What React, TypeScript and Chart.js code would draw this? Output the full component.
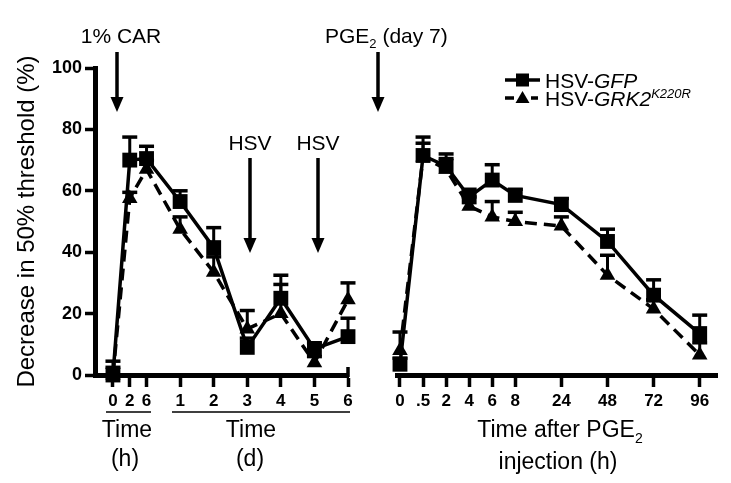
import React, { useEffect, useRef } from 'react';
import { Chart, registerables } from 'chart.js';

Chart.register(...registerables);

// ---------- data ----------
const leftTickLabels = ['0', '2', '6', '1', '2', '3', '4', '5', '6'];
const leftPositions = [0, 1, 2, 4, 6, 8, 10, 12, 14];
const gfpLeft = [0, 70, 70.5, 56.5, 41.5, 9, 25, 8.5, 12.5];
const gfpLeftErr = [4.5, 7.5, 4, 3.5, 6.5, 3, 7.5, 2, 6];
const grkLeft = [0, 57.5, 67, 47.5, 33.5, 15, 20, 4, 24.5];
const grkLeftErr = [2.5, 2, 3, 4, 5, 6, 9.5, 2, 5.5];

const rightTickLabels = ['0', '.5', '2', '4', '6', '8', '24', '48', '72', '96'];
const rightPositions = [0, 1, 2, 3, 4, 5, 7, 9, 11, 13];
const gfpRight = [3.5, 71.5, 68, 58, 63.5, 58.5, 55.5, 43.5, 26, 13.5];
const gfpRightErr = [2, 6, 4, 2.5, 5, 2, 2, 4, 5, 6];
const grkRight = [8, 71, 67, 55, 51.5, 50, 48.5, 32.5, 21.5, 6.5];
const grkRightErr = [6, 4.5, 3.5, 3, 5, 3, 3, 6.5, 3, 4];

const FONT = "'Liberation Sans', Arial, Helvetica, sans-serif";

type Part = { t: string; sub?: boolean; sup?: boolean; italic?: boolean };

function drawRich(ctx: CanvasRenderingContext2D, parts: Part[], x: number, y: number, size: number, align: 'left' | 'center') {
  const fontFor = (p: Part) =>
    `${p.italic ? 'italic ' : ''}${p.sub || p.sup ? Math.round(size * 0.62) : size}px ${FONT}`;
  let total = 0;
  const widths = parts.map((p) => {
    ctx.font = fontFor(p);
    const w = ctx.measureText(p.t).width;
    total += w;
    return w;
  });
  let cx = align === 'center' ? x - total / 2 : x;
  ctx.save();
  ctx.fillStyle = '#000';
  ctx.textAlign = 'left';
  ctx.textBaseline = 'alphabetic';
  parts.forEach((p, i) => {
    ctx.font = fontFor(p);
    const dy = p.sub ? size * 0.25 : p.sup ? -size * 0.38 : 0;
    ctx.fillText(p.t, cx, y + dy);
    cx += widths[i];
  });
  ctx.restore();
}

function drawArrow(ctx: CanvasRenderingContext2D, x: number, y1: number, y2: number) {
  ctx.save();
  ctx.strokeStyle = '#000';
  ctx.fillStyle = '#000';
  ctx.lineWidth = 3.5;
  ctx.beginPath();
  ctx.moveTo(x, y1);
  ctx.lineTo(x, y2 - 12);
  ctx.stroke();
  ctx.beginPath();
  ctx.moveTo(x - 6.5, y2 - 15);
  ctx.lineTo(x + 6.5, y2 - 15);
  ctx.lineTo(x, y2);
  ctx.closePath();
  ctx.fill();
  ctx.restore();
}

const errorBars = {
  id: 'errorBars',
  afterDatasetsDraw(chart: any) {
    const ctx = chart.ctx as CanvasRenderingContext2D;
    const ys = chart.scales.y;
    chart.data.datasets.forEach((ds: any, i: number) => {
      const meta = chart.getDatasetMeta(i);
      meta.data.forEach((pt: any, j: number) => {
        const v = ds.data[j].y;
        const top = ys.getPixelForValue(v + ds.errors[j]);
        ctx.save();
        ctx.strokeStyle = '#000';
        ctx.setLineDash([]);
        ctx.lineWidth = 3;
        ctx.beginPath();
        ctx.moveTo(pt.x, pt.y);
        ctx.lineTo(pt.x, top);
        ctx.stroke();
        ctx.lineWidth = 3.5;
        ctx.beginPath();
        ctx.moveTo(pt.x - 7.5, top);
        ctx.lineTo(pt.x + 7.5, top);
        ctx.stroke();
        ctx.restore();
      });
    });
  },
};

const leftDecor = {
  id: 'leftDecor',
  afterDraw(chart: any) {
    const ctx = chart.ctx as CanvasRenderingContext2D;
    drawRich(ctx, [{ t: '1% CAR' }], 121, 43, 21, 'center');
    drawArrow(ctx, 117, 52, 112);
    drawRich(ctx, [{ t: 'HSV' }], 250, 150, 21, 'center');
    drawArrow(ctx, 250, 158, 253);
    drawRich(ctx, [{ t: 'HSV' }], 318, 150, 21, 'center');
    drawArrow(ctx, 318, 158, 253);
    drawRich(ctx, [{ t: 'PGE' }, { t: '2', sub: true }, { t: ' (day 7)' }], 325, 43, 21, 'left');
    drawArrow(ctx, 378, 52, 112);

    // end cap of the left x axis
    const xs = chart.scales.x;
    const ys = chart.scales.y;
    const xe = xs.getPixelForValue(leftPositions[leftPositions.length - 1]);
    const y0 = ys.getPixelForValue(0);
    ctx.save();
    ctx.strokeStyle = '#000';
    ctx.lineWidth = 3.5;
    ctx.beginPath();
    ctx.moveTo(xe, y0 - 8);
    ctx.lineTo(xe, y0 + 2);
    ctx.stroke();

    ctx.lineWidth = 1.5;
    ctx.beginPath();
    ctx.moveTo(106, 412);
    ctx.lineTo(151, 412);
    ctx.moveTo(172, 412);
    ctx.lineTo(350, 412);
    ctx.stroke();
    ctx.restore();

    drawRich(ctx, [{ t: 'Time' }], 127, 437, 23, 'center');
    drawRich(ctx, [{ t: '(h)' }], 125, 466, 23, 'center');
    drawRich(ctx, [{ t: 'Time' }], 251, 437, 23, 'center');
    drawRich(ctx, [{ t: '(d)' }], 250, 466, 23, 'center');
  },
};

const rightDecor = {
  id: 'rightDecor',
  afterDraw(chart: any) {
    const ctx = chart.ctx as CanvasRenderingContext2D;
    drawRich(ctx, [{ t: 'Time after PGE' }, { t: '2', sub: true }], 560, 437, 23, 'center');
    drawRich(ctx, [{ t: 'injection (h)' }], 558, 469, 23, 'center');

    // legend
    ctx.save();
    ctx.strokeStyle = '#000';
    ctx.fillStyle = '#000';
    ctx.lineWidth = 3.5;
    ctx.beginPath();
    ctx.moveTo(505, 80);
    ctx.lineTo(540, 80);
    ctx.stroke();
    ctx.fillRect(516, 73.5, 13, 13);
    ctx.beginPath();
    ctx.moveTo(505, 98);
    ctx.lineTo(514, 98);
    ctx.moveTo(531, 98);
    ctx.lineTo(538, 98);
    ctx.stroke();
    ctx.beginPath();
    ctx.moveTo(522.5, 91);
    ctx.lineTo(529.5, 103);
    ctx.lineTo(515.5, 103);
    ctx.closePath();
    ctx.fill();
    ctx.restore();
    drawRich(ctx, [{ t: 'HSV-' }, { t: 'GFP', italic: true }], 545, 88, 21, 'left');
    drawRich(
      ctx,
      [{ t: 'HSV-' }, { t: 'GRK2', italic: true }, { t: 'K220R', italic: true, sup: true }],
      545,
      106,
      21,
      'left'
    );
  },
};

function makeDatasets(xs: number[], gfp: number[], gfpErr: number[], grk: number[], grkErr: number[]) {
  return [
    {
      label: 'HSV-GFP',
      data: xs.map((x, i) => ({ x, y: gfp[i] })),
      errors: gfpErr,
      borderColor: '#000',
      backgroundColor: '#000',
      borderWidth: 3.5,
      pointStyle: 'rect',
      pointRadius: 10.5,
      pointBorderWidth: 0,
      pointBackgroundColor: '#000',
      tension: 0,
      clip: false,
    },
    {
      label: 'HSV-GRK2K220R',
      data: xs.map((x, i) => ({ x, y: grk[i] })),
      errors: grkErr,
      borderColor: '#000',
      backgroundColor: '#000',
      borderWidth: 3.5,
      borderDash: [12, 7],
      pointStyle: 'triangle',
      pointRadius: 9,
      pointBorderWidth: 0,
      pointBackgroundColor: '#000',
      tension: 0,
      clip: false,
    },
  ];
}

function xScale(min: number, max: number, positions: number[], labels: string[]) {
  return {
    type: 'linear',
    min,
    max,
    afterBuildTicks: (s: any) => {
      s.ticks = positions.map((v) => ({ value: v }));
    },
    afterFit: (s: any) => {
      s.height = 108;
    },
    ticks: {
      callback: (_v: any, idx: number) => labels[idx],
      font: { family: FONT, size: 17, weight: 'bold' },
      color: '#000',
      padding: 4,
      maxRotation: 0,
      autoSkip: false,
    },
    grid: { drawOnChartArea: false, drawTicks: true, tickLength: 12, tickWidth: 3.5, tickColor: '#000' },
    border: { display: true, width: 5, color: '#000' },
  };
}

export default function App() {
  const leftRef = useRef<HTMLCanvasElement>(null);
  const rightRef = useRef<HTMLCanvasElement>(null);

  useEffect(() => {
    const left = new Chart(leftRef.current as HTMLCanvasElement, {
      type: 'line',
      data: { datasets: makeDatasets(leftPositions, gfpLeft, gfpLeftErr, grkLeft, grkLeftErr) as any },
      options: {
        animation: false,
        responsive: false,
        layout: { padding: { left: 0, right: 383, top: 68, bottom: 0 } },
        plugins: { legend: { display: false }, tooltip: { enabled: false } },
        scales: {
          x: xScale(-1.07, 14, leftPositions, leftTickLabels) as any,
          y: {
            min: 0,
            max: 100,
            afterFit: (s: any) => {
              s.width = 95;
            },
            ticks: {
              stepSize: 20,
              font: { family: FONT, size: 18, weight: 'bold' },
              color: '#000',
              padding: 3,
            },
            grid: { drawOnChartArea: false, drawTicks: true, tickLength: 10, tickWidth: 3.5, tickColor: '#000' },
            border: { display: true, width: 5, color: '#000' },
            title: {
              display: true,
              text: 'Decrease in 50% threshold (%)',
              font: { family: FONT, size: 24 },
              color: '#000',
              padding: { top: 13, bottom: 0 },
            },
          },
        },
      },
      plugins: [errorBars, leftDecor],
    });

    const right = new Chart(rightRef.current as HTMLCanvasElement, {
      type: 'line',
      data: { datasets: makeDatasets(rightPositions, gfpRight, gfpRightErr, grkRight, grkRightErr) as any },
      options: {
        animation: false,
        responsive: false,
        layout: { padding: { left: 397, right: 14, top: 68, bottom: 0 } },
        plugins: { legend: { display: false }, tooltip: { enabled: false } },
        scales: {
          x: xScale(-0.13, 13.75, rightPositions, rightTickLabels) as any,
          y: { min: 0, max: 100, display: false },
        },
      },
      plugins: [errorBars, rightDecor],
    });

    return () => {
      left.destroy();
      right.destroy();
    };
  }, []);

  return (
    <div style={{ position: 'fixed', left: 0, top: 0, width: 731, height: 483, background: '#fff' }}>
      <canvas ref={leftRef} width={731} height={483} style={{ position: 'absolute', left: 0, top: 0 }} />
      <canvas ref={rightRef} width={731} height={483} style={{ position: 'absolute', left: 0, top: 0 }} />
    </div>
  );
}
